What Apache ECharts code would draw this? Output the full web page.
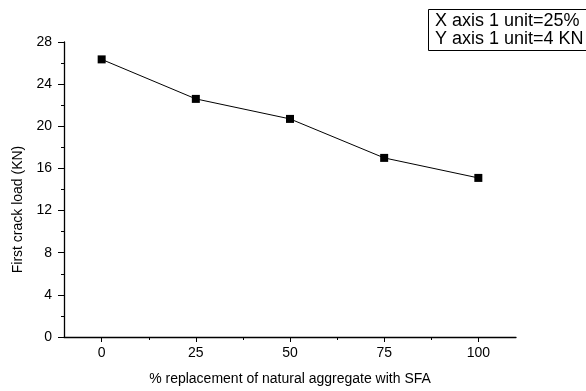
<!DOCTYPE html>
<html>
<head>
<meta charset="utf-8">
<script src="https://cdn.jsdelivr.net/npm/echarts@6/dist/echarts.min.js"></script>
<style>
  html, body { margin: 0; padding: 0; background: #fff; }
  #chart { width: 586px; height: 391px; }
</style>
</head>
<body>
<div id="chart"></div>
<script>
// replacement % and first crack load (KN)
var replacement = [0, 25, 50, 75, 100];
var crackLoad = [26.35, 22.6, 20.7, 17.0, 15.1];
var xTicks = [0, 25, 50, 75, 100];
var xMinorTicks = [12.5, 37.5, 62.5, 87.5];
var noteLines = ['X axis 1 unit=25%', 'Y axis 1 unit=4 KN'];

var chart = echarts.init(document.getElementById('chart'));
var font = 'Liberation Sans, Arial, sans-serif';

var option = {
  animation: false,
  grid: { left: 64, right: 70, top: 42, bottom: 46 },
  xAxis: [
    {
      type: 'value',
      min: -10,
      max: 110,
      splitLine: { show: false },
      axisLine: { onZero: false, lineStyle: { color: '#000', width: 1.3 } },
      axisTick: { customValues: xTicks, length: 5, lineStyle: { color: '#000' } },
      axisLabel: { customValues: xTicks, color: '#000', fontSize: 14, fontFamily: font, margin: 9 },
      name: '% replacement of natural aggregate with SFA',
      nameLocation: 'middle',
      nameGap: 35,
      nameTextStyle: { color: '#000', fontSize: 14, fontFamily: font }
    },
    {
      // minor ticks only
      type: 'value',
      min: -10,
      max: 110,
      position: 'bottom',
      splitLine: { show: false },
      axisLine: { show: false, onZero: false },
      axisTick: { customValues: xMinorTicks, length: 3, lineStyle: { color: '#000' } },
      axisLabel: { show: false }
    }
  ],
  yAxis: {
    type: 'value',
    min: 0,
    max: 28,
    interval: 4,
    position: 'left',
    splitLine: { show: false },
    axisLine: { show: true, onZero: false, lineStyle: { color: '#000', width: 1.3 } },
    axisTick: { show: true, length: 6, lineStyle: { color: '#000' } },
    minorTick: { show: true, splitNumber: 2, length: 3, lineStyle: { color: '#000' } },
    axisLabel: { color: '#000', fontSize: 14, fontFamily: font, margin: 12 },
    name: 'First crack load (KN)',
    nameLocation: 'middle',
    nameGap: 39,
    nameTextStyle: { color: '#000', fontSize: 14, fontFamily: font, padding: [0, 40, 0, 0] }
  },
  graphic: [
    {
      type: 'rect',
      left: 428,
      top: 9,
      shape: { width: 170, height: 41 },
      style: { fill: '#fff', stroke: '#000', lineWidth: 1 }
    },
    {
      type: 'text',
      left: 435,
      top: 12,
      style: { text: noteLines.join('\n'), fill: '#000', font: '18px ' + font, lineHeight: 18 }
    }
  ],
  series: [
    {
      type: 'line',
      xAxisIndex: 0,
      data: replacement.map(function (x, i) { return [x, crackLoad[i]]; }),
      symbol: 'rect',
      symbolSize: 8,
      itemStyle: { color: '#000' },
      lineStyle: { color: '#000', width: 1 }
    }
  ]
};
chart.setOption(option);
</script>
</body>
</html>
